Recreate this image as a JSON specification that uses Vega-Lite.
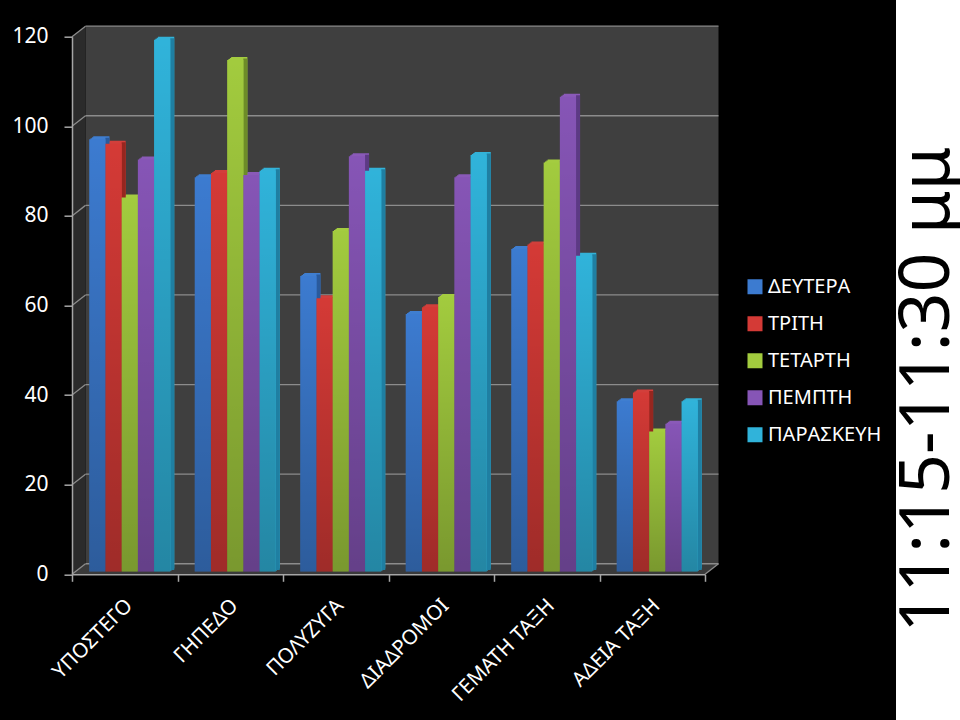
{"$schema":"https://vega.github.io/schema/vega-lite/v6.json","width":633,"height":537.6,"autosize":{"type":"none"},"padding":{"left":72,"top":36.7,"right":255,"bottom":145.7},"background":"#000000","config":{"view":{"stroke":null},"font":"Noto Sans"},
"datasets":{"bars":[
{"c":"ΥΠΟΣΤΕΓΟ","d":"ΔΕΥΤΕΡΑ","v":96.5},{"c":"ΥΠΟΣΤΕΓΟ","d":"ΤΡΙΤΗ","v":95.5},{"c":"ΥΠΟΣΤΕΓΟ","d":"ΤΕΤΑΡΤΗ","v":83.5},{"c":"ΥΠΟΣΤΕΓΟ","d":"ΠΕΜΠΤΗ","v":92},{"c":"ΥΠΟΣΤΕΓΟ","d":"ΠΑΡΑΣΚΕΥΗ","v":118.7},
{"c":"ΓΗΠΕΔΟ","d":"ΔΕΥΤΕΡΑ","v":88},{"c":"ΓΗΠΕΔΟ","d":"ΤΡΙΤΗ","v":89},{"c":"ΓΗΠΕΔΟ","d":"ΤΕΤΑΡΤΗ","v":114.2},{"c":"ΓΗΠΕΔΟ","d":"ΠΕΜΠΤΗ","v":88.5},{"c":"ΓΗΠΕΔΟ","d":"ΠΑΡΑΣΚΕΥΗ","v":89.5},
{"c":"ΠΟΛΥΖΥΓΑ","d":"ΔΕΥΤΕΡΑ","v":66},{"c":"ΠΟΛΥΖΥΓΑ","d":"ΤΡΙΤΗ","v":61},{"c":"ΠΟΛΥΖΥΓΑ","d":"ΤΕΤΑΡΤΗ","v":76},{"c":"ΠΟΛΥΖΥΓΑ","d":"ΠΕΜΠΤΗ","v":92.7},{"c":"ΠΟΛΥΖΥΓΑ","d":"ΠΑΡΑΣΚΕΥΗ","v":89.5},
{"c":"ΔΙΑΔΡΟΜΟΙ","d":"ΔΕΥΤΕΡΑ","v":57.5},{"c":"ΔΙΑΔΡΟΜΟΙ","d":"ΤΡΙΤΗ","v":59},{"c":"ΔΙΑΔΡΟΜΟΙ","d":"ΤΕΤΑΡΤΗ","v":61.3},{"c":"ΔΙΑΔΡΟΜΟΙ","d":"ΠΕΜΠΤΗ","v":88},{"c":"ΔΙΑΔΡΟΜΟΙ","d":"ΠΑΡΑΣΚΕΥΗ","v":93},
{"c":"ΓΕΜΑΤΗ ΤΑΞΗ","d":"ΔΕΥΤΕΡΑ","v":72},{"c":"ΓΕΜΑΤΗ ΤΑΞΗ","d":"ΤΡΙΤΗ","v":73},{"c":"ΓΕΜΑΤΗ ΤΑΞΗ","d":"ΤΕΤΑΡΤΗ","v":91.3},{"c":"ΓΕΜΑΤΗ ΤΑΞΗ","d":"ΠΕΜΠΤΗ","v":106},{"c":"ΓΕΜΑΤΗ ΤΑΞΗ","d":"ΠΑΡΑΣΚΕΥΗ","v":70.5},
{"c":"ΑΔΕΙΑ ΤΑΞΗ","d":"ΔΕΥΤΕΡΑ","v":38},{"c":"ΑΔΕΙΑ ΤΑΞΗ","d":"ΤΡΙΤΗ","v":40},{"c":"ΑΔΕΙΑ ΤΑΞΗ","d":"ΤΕΤΑΡΤΗ","v":31.3},{"c":"ΑΔΕΙΑ ΤΑΞΗ","d":"ΠΕΜΠΤΗ","v":33},{"c":"ΑΔΕΙΑ ΤΑΞΗ","d":"ΠΑΡΑΣΚΕΥΗ","v":38}],
"wall":[{"x0":13.5,"x1":646.5,"v0":2.35,"v1":122.35}],
"side":[{"x":0,"lo":0,"hi":120},{"x":13.5,"lo":2.35,"hi":122.35}],
"floor":[{"x":0,"lo":0,"hi":0},{"x":13.5,"lo":0,"hi":2.35},{"x":633,"lo":0,"hi":2.35},{"x":646.5,"lo":2.35,"hi":2.35}],
"lines":[{"x0":13.5,"x1":646.5,"v0":2.35,"v1":2.35},{"x0":13.5,"x1":646.5,"v0":22.35,"v1":22.35},{"x0":13.5,"x1":646.5,"v0":42.35,"v1":42.35},{"x0":13.5,"x1":646.5,"v0":62.35,"v1":62.35},{"x0":13.5,"x1":646.5,"v0":82.35,"v1":82.35},{"x0":13.5,"x1":646.5,"v0":102.35,"v1":102.35},{"x0":13.5,"x1":646.5,"v0":122.35,"v1":122.35},
{"x0":0,"x1":13.5,"v0":0,"v1":2.35},{"x0":0,"x1":13.5,"v0":20,"v1":22.35},{"x0":0,"x1":13.5,"v0":40,"v1":42.35},{"x0":0,"x1":13.5,"v0":60,"v1":62.35},{"x0":0,"x1":13.5,"v0":80,"v1":82.35},{"x0":0,"x1":13.5,"v0":100,"v1":102.35},{"x0":0,"x1":13.5,"v0":120,"v1":122.35},{"x0":633,"x1":646.5,"v0":0,"v1":2.35}],
"strip":[{"x0":824,"x1":900,"v0":-33,"v1":129}],
"note":[{"x":856,"v":41.2,"t":"11:15-11:30 μμ"}]},
"layer":[
{"data":{"name":"wall"},"mark":{"type":"rect","fill":"#3f3f3f"},"encoding":{"x":{"field":"x0","type":"quantitative","scale":{"domain":[0,633]},"axis":null},"x2":{"field":"x1"},"y":{"field":"v0","type":"quantitative","scale":{"domain":[0,120],"nice":false},"axis":null},"y2":{"field":"v1"}}},
{"data":{"name":"side"},"mark":{"type":"area","fill":"#2b2b2b"},"encoding":{"x":{"field":"x","type":"quantitative","scale":{"domain":[0,633]},"axis":null},"y":{"field":"lo","type":"quantitative","scale":{"domain":[0,120],"nice":false},"axis":null},"y2":{"field":"hi"}}},
{"data":{"name":"floor"},"mark":{"type":"area","fill":"#3a3a3a"},"encoding":{"x":{"field":"x","type":"quantitative","scale":{"domain":[0,633]},"axis":null},"y":{"field":"lo","type":"quantitative","scale":{"domain":[0,120],"nice":false},"axis":null},"y2":{"field":"hi"}}},
{"data":{"name":"lines"},"mark":{"type":"rule","stroke":"#8c8c8c","strokeWidth":1.3},"encoding":{"x":{"field":"x0","type":"quantitative","scale":{"domain":[0,633]},"axis":null},"x2":{"field":"x1"},"y":{"field":"v0","type":"quantitative","scale":{"domain":[0,120],"nice":false},"axis":null},"y2":{"field":"v1"}}},
{"data":{"name":"bars"},"mark":{"type":"bar","opacity":0},"encoding":{"x":{"field":"c","type":"nominal","sort":null,"scale":{"paddingInner":0,"paddingOuter":0},"axis":{"title":null,"tickBand":"extent","zindex":1,"domainColor":"#a6a6a6","domainWidth":1.5,"tickColor":"#a6a6a6","tickWidth":1.5,"tickSize":7,"labelAngle":-45,"labelAlign":"right","labelBaseline":"middle","labelPadding":21,"labelOffset":4,"labelColor":"#ffffff","labelFontSize":20.5,"labelFont":"Noto Sans","labelLimit":300}},"y":{"field":"v","type":"quantitative","scale":{"domain":[0,120],"nice":false},"axis":{"values":[0,20,40,60,80,100,120],"title":null,"grid":false,"zindex":1,"domainColor":"#a6a6a6","tickColor":"#a6a6a6","tickSize":8,"labelPadding":16,"labelColor":"#ffffff","labelFontSize":21,"labelFont":"Noto Sans","domainWidth":1.5,"tickWidth":1.5}}}},
{"data":{"name":"bars"},"mark":{"type":"bar","yOffset":-3.7},"encoding":{"x":{"field":"c","type":"nominal","sort":null,"scale":{"range":[6.3,639.3],"paddingInner":0.232,"paddingOuter":0.116},"axis":null},"xOffset":{"field":"d","type":"nominal","scale":{"domain":["ΔΕΥΤΕΡΑ","ΤΡΙΤΗ","ΤΕΤΑΡΤΗ","ΠΕΜΠΤΗ","ΠΑΡΑΣΚΕΥΗ"]}},"y":{"field":"v","type":"quantitative","scale":{"domain":[0,120],"nice":false},"axis":null},"color":{"field":"d","type":"nominal","legend":null,"scale":{"domain":["ΔΕΥΤΕΡΑ","ΤΡΙΤΗ","ΤΕΤΑΡΤΗ","ΠΕΜΠΤΗ","ΠΑΡΑΣΚΕΥΗ"],"range":["#3f7ed0","#d23f3b","#a4cc40","#8a5ab8","#33b2d8"]}}}},
{"data":{"name":"bars"},"mark":{"type":"bar","yOffset":-4.7},"encoding":{"x":{"field":"c","type":"nominal","sort":null,"scale":{"range":[7.7,640.7],"paddingInner":0.232,"paddingOuter":0.116},"axis":null},"xOffset":{"field":"d","type":"nominal","scale":{"domain":["ΔΕΥΤΕΡΑ","ΤΡΙΤΗ","ΤΕΤΑΡΤΗ","ΠΕΜΠΤΗ","ΠΑΡΑΣΚΕΥΗ"]}},"y":{"field":"v","type":"quantitative","scale":{"domain":[0,120],"nice":false},"axis":null},"color":{"field":"d","type":"nominal","legend":null,"scale":{"domain":["ΔΕΥΤΕΡΑ","ΤΡΙΤΗ","ΤΕΤΑΡΤΗ","ΠΕΜΠΤΗ","ΠΑΡΑΣΚΕΥΗ"],"range":["#3f7ed0","#d23f3b","#a4cc40","#8a5ab8","#33b2d8"]}}}},
{"data":{"name":"bars"},"mark":{"type":"bar","yOffset":-5.7},"encoding":{"x":{"field":"c","type":"nominal","sort":null,"scale":{"range":[9,642],"paddingInner":0.232,"paddingOuter":0.116},"axis":null},"xOffset":{"field":"d","type":"nominal","scale":{"domain":["ΔΕΥΤΕΡΑ","ΤΡΙΤΗ","ΤΕΤΑΡΤΗ","ΠΕΜΠΤΗ","ΠΑΡΑΣΚΕΥΗ"]}},"y":{"field":"v","type":"quantitative","scale":{"domain":[0,120],"nice":false},"axis":null},"color":{"field":"d","type":"nominal","legend":null,"scale":{"domain":["ΔΕΥΤΕΡΑ","ΤΡΙΤΗ","ΤΕΤΑΡΤΗ","ΠΕΜΠΤΗ","ΠΑΡΑΣΚΕΥΗ"],"range":["#3f7ed0","#d23f3b","#a4cc40","#8a5ab8","#33b2d8"]}}}},
{"data":{"name":"bars"},"mark":{"type":"bar","yOffset":-4.2,"width":4},"encoding":{"x":{"field":"c","type":"nominal","sort":null,"scale":{"range":[15.1,648.1],"paddingInner":0.232,"paddingOuter":0.116},"axis":null},"xOffset":{"field":"d","type":"nominal","scale":{"domain":["ΔΕΥΤΕΡΑ","ΤΡΙΤΗ","ΤΕΤΑΡΤΗ","ΠΕΜΠΤΗ","ΠΑΡΑΣΚΕΥΗ"]}},"y":{"field":"v","type":"quantitative","scale":{"domain":[0,120],"nice":false},"axis":null},"color":{"field":"d","type":"nominal","legend":null,"scale":{"domain":["ΔΕΥΤΕΡΑ","ΤΡΙΤΗ","ΤΕΤΑΡΤΗ","ΠΕΜΠΤΗ","ΠΑΡΑΣΚΕΥΗ"],"range":["#2a5a9c","#96261f","#6d8c28","#5c3a84","#1f7fa2"]}}}},
{"data":{"name":"bars"},"mark":{"type":"bar","yOffset":-2.7},"encoding":{"x":{"field":"c","type":"nominal","sort":null,"scale":{"range":[5,638],"paddingInner":0.232,"paddingOuter":0.116},"axis":null},"xOffset":{"field":"d","type":"nominal","scale":{"domain":["ΔΕΥΤΕΡΑ","ΤΡΙΤΗ","ΤΕΤΑΡΤΗ","ΠΕΜΠΤΗ","ΠΑΡΑΣΚΕΥΗ"]}},"y":{"field":"v","type":"quantitative","scale":{"domain":[0,120],"nice":false},"axis":null},"color":{"field":"d","type":"nominal","scale":{"domain":["ΔΕΥΤΕΡΑ","ΤΡΙΤΗ","ΤΕΤΑΡΤΗ","ΠΕΜΠΤΗ","ΠΑΡΑΣΚΕΥΗ"],"range":["#3c7bd0","#d43a36","#a2cb3e","#8655b6","#30b3da"]},"legend":{"orient":"none","legendX":673,"legendY":237,"title":null,"symbolType":"square","symbolSize":225,"symbolStrokeWidth":0,"labelColor":"#ffffff","labelFontSize":20,"labelFont":"Noto Sans","labelOffset":3,"rowPadding":11,"clipHeight":26}}}},
{"data":{"name":"bars"},"mark":{"type":"bar","yOffset":-2.7,"fill":{"gradient":"linear","x1":0,"y1":0,"x2":0,"y2":1,"stops":[{"offset":0,"color":"rgba(0,0,0,0)"},{"offset":1,"color":"rgba(0,0,0,0.25)"}]}},"encoding":{"x":{"field":"c","type":"nominal","sort":null,"scale":{"range":[5,638],"paddingInner":0.232,"paddingOuter":0.116},"axis":null},"xOffset":{"field":"d","type":"nominal","scale":{"domain":["ΔΕΥΤΕΡΑ","ΤΡΙΤΗ","ΤΕΤΑΡΤΗ","ΠΕΜΠΤΗ","ΠΑΡΑΣΚΕΥΗ"]}},"y":{"field":"v","type":"quantitative","scale":{"domain":[0,120],"nice":false},"axis":null}}},
{"data":{"name":"strip"},"mark":{"type":"rect","fill":"#ffffff"},"encoding":{"x":{"field":"x0","type":"quantitative","scale":{"domain":[0,633]},"axis":null},"x2":{"field":"x1"},"y":{"field":"v0","type":"quantitative","scale":{"domain":[0,120],"nice":false},"axis":null},"y2":{"field":"v1"}}},
{"data":{"name":"note"},"mark":{"type":"text","angle":270,"align":"center","baseline":"middle","font":"Noto Sans","fontSize":70,"fill":"#000000"},"encoding":{"x":{"field":"x","type":"quantitative","scale":{"domain":[0,633]},"axis":null},"y":{"field":"v","type":"quantitative","scale":{"domain":[0,120],"nice":false},"axis":null},"text":{"field":"t"}}}
],
"resolve":{"scale":{"x":"independent","xOffset":"independent","color":"independent"},"axis":{"x":"independent","y":"independent"}}}
